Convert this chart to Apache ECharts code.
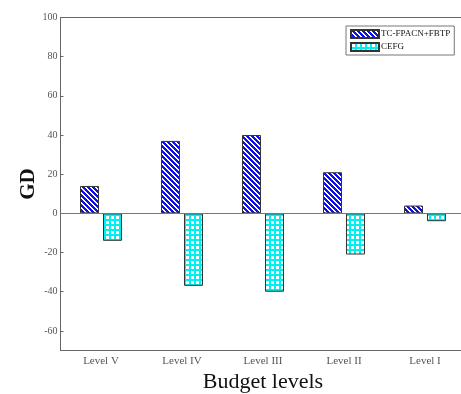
<!DOCTYPE html>
<html>
<head>
<meta charset="utf-8">
<script src="https://cdn.jsdelivr.net/npm/echarts@6/dist/echarts.min.js"></script>
<style>html,body{margin:0;padding:0;background:#fff}#c{width:461px;height:394px}</style>
</head>
<body>
<div id="c"></div>
<script>
const categories = ['Level V', 'Level IV', 'Level III', 'Level II', 'Level I'];
const seriesNames = ['TC-FPACN+FBTP', 'CEFG'];
const tcValues = [14, 37, 40, 21, 4];
const cefgValues = [-14, -37, -40, -21, -4];
const yTicks = [-60, -40, -20, 0, 20, 40, 60, 80, 100];
const yMin = -70, yMax = 100;

function stripePattern() {
  const s = 5, c = document.createElement('canvas');
  c.width = s; c.height = s;
  const ctx = c.getContext('2d');
  ctx.fillStyle = '#ffffff'; ctx.fillRect(0, 0, s, s);
  ctx.fillStyle = '#1010e0';
  for (let x = 0; x < s; x++) for (let y = 0; y < s; y++) {
    if ((((x - y) % s) + s) % s < 3) ctx.fillRect(x, y, 1, 1);
  }
  return { image: c, repeat: 'repeat' };
}
function gridPattern() {
  const s = 5, c = document.createElement('canvas');
  c.width = s; c.height = s;
  const ctx = c.getContext('2d');
  ctx.fillStyle = '#00f0f0'; ctx.fillRect(0, 0, s, s);
  ctx.fillStyle = '#ffffff'; ctx.fillRect(1, 1, 3, 3);
  return { image: c, repeat: 'repeat' };
}

const font = 'Liberation Serif';
const axisGrey = '#666';
const chart = echarts.init(document.getElementById('c'), null, { renderer: 'canvas' });
chart.setOption({
  animation: false,
  backgroundColor: '#fff',
  grid: { left: 60.5, top: 17.5, width: 405, height: 333, containLabel: false, outerBoundsMode: 'none' },
  legend: {
    orient: 'vertical', left: 346, top: 26,
    padding: [3, 4, 3, 4], itemGap: 3, itemWidth: 28, itemHeight: 8,
    borderColor: '#777', borderWidth: 1, backgroundColor: '#fff',
    icon: 'rect',
    textStyle: { fontFamily: font, fontSize: 9, color: '#111', padding: [0, 0, 0, -3] },
    data: seriesNames
  },
  xAxis: [{
    type: 'category', data: categories, position: 'bottom',
    axisLine: { onZero: false, lineStyle: { color: axisGrey, width: 1 } },
    axisTick: { inside: true, length: 3, alignWithLabel: true, lineStyle: { color: axisGrey } },
    axisLabel: { fontFamily: font, fontSize: 11, color: '#555', margin: 5 },
    name: 'Budget levels', nameLocation: 'middle', nameGap: 21,
    nameTextStyle: { fontFamily: font, fontSize: 22, color: '#111' }
  }, {
    type: 'category', data: categories, position: 'top',
    axisLine: { onZero: false, lineStyle: { color: axisGrey, width: 1 } },
    axisTick: { inside: true, length: 3, alignWithLabel: true, lineStyle: { color: axisGrey } },
    axisLabel: { show: false }
  }],
  yAxis: {
    type: 'value', min: yMin, max: yMax,
    axisLine: { show: true, lineStyle: { color: axisGrey, width: 1 } },
    axisTick: { show: true, inside: true, length: 3, customValues: yTicks, lineStyle: { color: axisGrey } },
    axisLabel: { fontFamily: font, fontSize: 10, color: '#555', margin: 3, customValues: yTicks },
    splitLine: { show: false },
    name: 'GD', nameLocation: 'middle', nameRotate: 90, nameGap: 21, nameMoveOverlap: false,
    nameTextStyle: { fontFamily: font, fontSize: 21, fontWeight: 'bold', color: '#111' }
  },
  series: [{
    name: seriesNames[0], type: 'bar', data: tcValues,
    barWidth: 19, barGap: '21%',
    itemStyle: { color: stripePattern(), borderColor: '#333', borderWidth: 1 },
    markLine: {
      silent: true, symbol: 'none', label: { show: false },
      lineStyle: { color: '#777', type: 'solid', width: 1 },
      data: [{ yAxis: 0 }]
    }
  }, {
    name: seriesNames[1], type: 'bar', data: cefgValues,
    barWidth: 19, barGap: '21%',
    itemStyle: { color: gridPattern(), borderColor: '#333', borderWidth: 1 }
  }]
});
</script>
</body>
</html>
